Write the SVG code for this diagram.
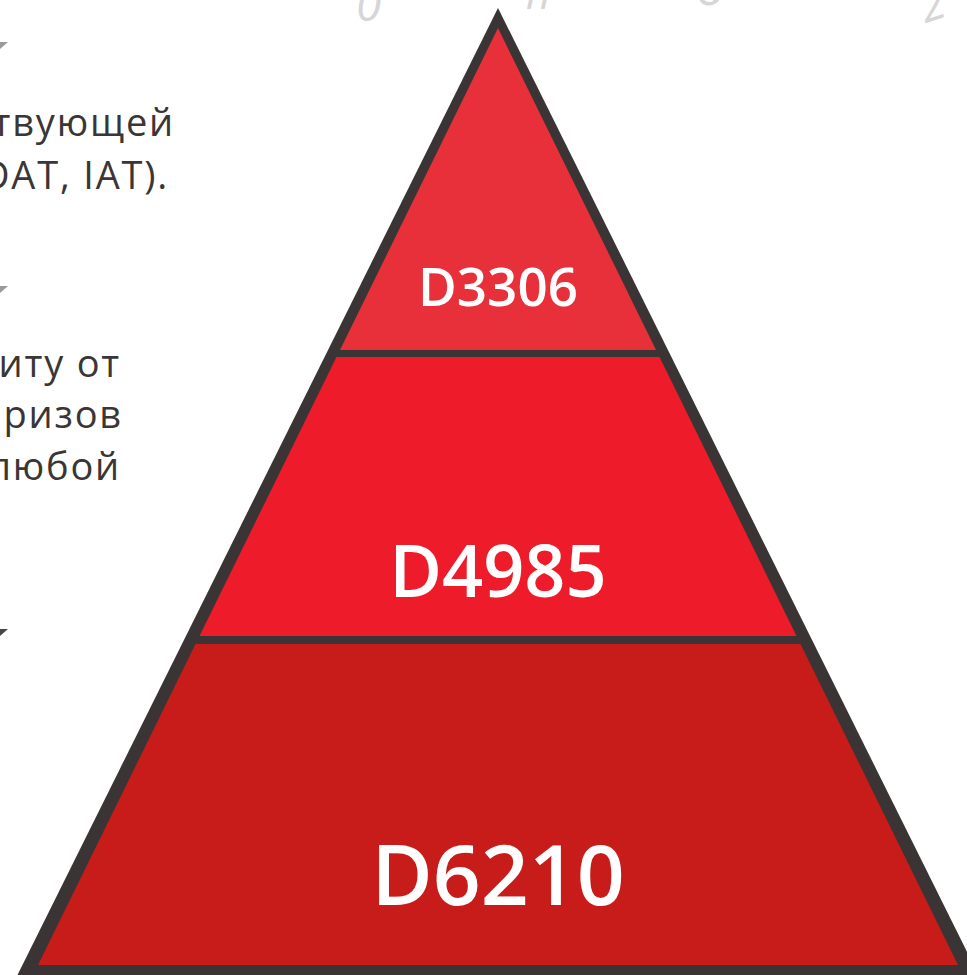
<svg xmlns="http://www.w3.org/2000/svg" width="967" height="975" viewBox="0 0 967 975">
  <style>
    .side { font-family: "Open Sans", "Liberation Sans", sans-serif; font-size: 38px; font-weight: 500; fill: #3a3636; letter-spacing: 1.8px; text-anchor: end; }
    .faint { font-family: "Open Sans", "Liberation Sans", sans-serif; font-style: italic; fill: #d6d6d6; }
    .lbl { font-family: "Open Sans", "Liberation Sans", sans-serif; font-weight: 600; fill: #ffffff; text-anchor: middle; }
    .border { fill: #3a3534; }
  </style>
  <rect width="967" height="975" fill="#ffffff"/>

  <!-- faint cut-off text at top -->
  <g id="faint-text">
    <text class="faint" x="356" y="21" font-size="46">0</text>
    <text class="faint" x="526" y="9" font-size="42">п</text>
    <text class="faint" x="696" y="5" font-size="52">о</text>
    <text class="faint" x="922" y="18" font-size="44" transform="rotate(-18 940 10)">2</text>
  </g>

  <!-- left side cut-off text -->
  <g id="text-block-1">
    <polygon points="0,42 8,42 0,49" fill="#9a9a9a"/>
    <text class="side" x="175" y="136">твующей</text>
    <text class="side" x="169" y="189">DAT, IAT).</text>
  </g>
  <g id="text-block-2">
    <polygon points="0,286 8,286 0,293" fill="#9a9a9a"/>
    <text class="side" x="121" y="377">иту от</text>
    <text class="side" x="123" y="428">ризов</text>
    <text class="side" x="121" y="480">любой</text>
  </g>
  <g id="text-block-3">
    <polygon points="0,629 8,629 0,636" fill="#4a4646"/>
  </g>

  <!-- pyramid -->
  <g id="pyramid-outline">
    <polygon class="border" points="498,8 14,982 982,982"/>
  </g>
  <g id="tier-top">
    <polygon points="498,28 340,350 656,350" fill="#e8303a"/>
    <text class="lbl" x="498" y="306" font-size="53">D3306</text>
  </g>
  <g id="tier-middle">
    <polygon points="336.5,357 659.5,357 796.5,636 199.5,636" fill="#ee1b2a"/>
    <text class="lbl" x="498" y="597" font-size="72">D4985</text>
  </g>
  <g id="tier-bottom">
    <polygon points="195.5,644 800.5,644 958,965 38,965" fill="#c71c19"/>
    <text class="lbl" x="498" y="905" font-size="84">D6210</text>
  </g>
</svg>
